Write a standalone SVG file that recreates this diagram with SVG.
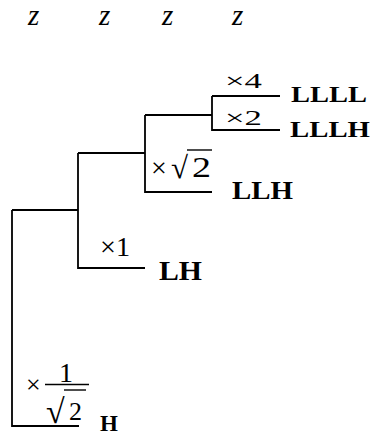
<svg xmlns="http://www.w3.org/2000/svg" width="371" height="432" viewBox="0 0 371 432">
<style>
.ln{fill:none;stroke:#000;stroke-width:1.8}
.ov{stroke:#000;stroke-width:1.4}
text{font-family:'Liberation Serif','Times New Roman',Times,serif;fill:#000}
.z{font-style:italic;font-size:29px}
.b{font-weight:bold}
</style>
<rect width="371" height="432" fill="#fff"/>
<g id="header">
<text class="z" x="28" y="25" font-style="italic">z</text>
<text class="z" x="99" y="25" font-style="italic">z</text>
<text class="z" x="162" y="25" font-style="italic">z</text>
<text class="z" x="232" y="25" font-style="italic">z</text>
</g>
<g id="connectors">
<path class="ln" d="M212,96H280M212,96V130H280"/>
<path class="ln" d="M145,115H212M145,115V192H212"/>
<path class="ln" d="M78,153H145M78,153V268H145"/>
<path class="ln" d="M12,210H78M12,210V426H79"/>
</g>
<g id="LLLL">
<text x="225" y="88" font-size="22" textLength="37" lengthAdjust="spacingAndGlyphs">×4</text>
<text class="b" x="291" y="102" font-size="24" textLength="76" lengthAdjust="spacingAndGlyphs">LLLL</text>
</g>
<g id="LLLH">
<text x="225" y="125" font-size="22" textLength="37" lengthAdjust="spacingAndGlyphs">×2</text>
<text class="b" x="290" y="137" font-size="24" textLength="80" lengthAdjust="spacingAndGlyphs">LLLH</text>
</g>
<g id="LLH">
<text x="151" y="177" font-size="28">×</text>
<text x="171" y="178" font-size="31">√</text>
<line class="ov" x1="187" y1="150" x2="212" y2="150"/>
<text x="192" y="177" font-size="29" textLength="19" lengthAdjust="spacingAndGlyphs">2</text>
<text class="b" x="232" y="199" font-size="26" textLength="61" lengthAdjust="spacingAndGlyphs">LLH</text>
</g>
<g id="LH">
<text x="100" y="256" font-size="27" textLength="30" lengthAdjust="spacingAndGlyphs">×1</text>
<text class="b" x="159" y="280" font-size="28" textLength="43" lengthAdjust="spacingAndGlyphs">LH</text>
</g>
<g id="H">
<text x="26" y="393" font-size="26">×</text>
<text x="59" y="382" font-size="28">1</text>
<line class="ov" x1="45" y1="384.5" x2="89" y2="384.5"/>
<text x="46" y="423" font-size="34">√</text>
<line class="ov" x1="64" y1="390" x2="86" y2="390"/>
<text x="69" y="420" font-size="26">2</text>
<text class="b" x="100" y="431" font-size="23">H</text>
</g>
</svg>
